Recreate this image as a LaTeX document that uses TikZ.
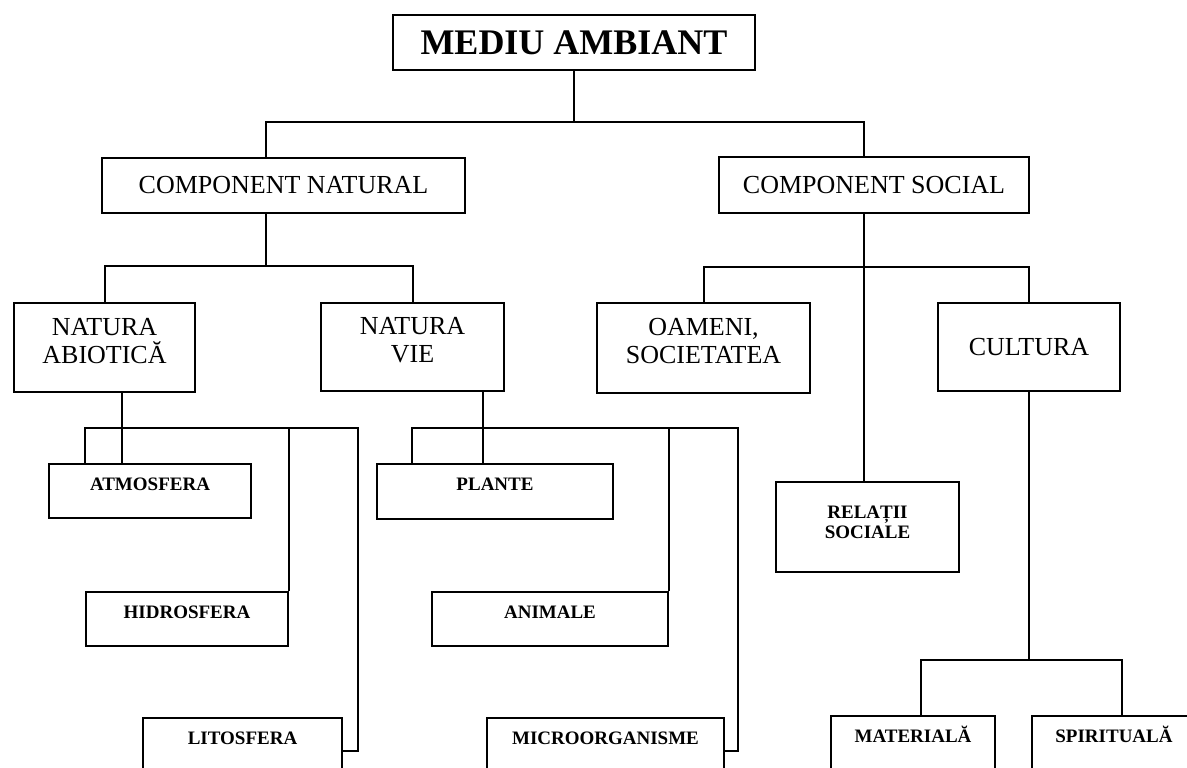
\documentclass[tikz,border=0pt]{standalone}
\usepackage{fontspec}
\setmainfont{Liberation Serif}

\begin{document}
\begin{tikzpicture}[x=0.5pt, y=-0.5pt, line width=1pt,
                    box/.style={draw, inner sep=0pt, anchor=north west, align=center},
                    wh/.style 2 args={minimum width=#1pt, minimum height=#2pt},
                    big/.style={box, font=\fontsize{13}{14}\selectfont},
                    bigtwo/.style={big, text height=29.8pt, text depth=14.2pt},
                    small/.style={box, font=\bfseries\fontsize{9.5}{10}\selectfont, text height=13.2pt, text depth=13.8pt},
                    low/.style={small, text height=13pt, text depth=20pt}]

\clip (0,0) rectangle (1187,767);
\fill[white] (0,0) rectangle (1187,767);

\node[box, wh={181}{27.5}, font=\bfseries\fontsize{18}{20}\selectfont] (mediu) at (392,14) {MEDIU AMBIANT};
\node[big, wh={181.5}{27.5}] (cnat) at (101,157) {COMPONENT NATURAL};
\node[big, wh={155}{28}] (csoc) at (718,156) {COMPONENT SOCIAL};
\node[bigtwo, wh={90.5}{44.5}] (abio) at (13,302) {NATURA\\ABIOTICĂ};
\node[bigtwo, wh={91.5}{44}] (vie) at (320,302) {NATURA\\VIE};
\node[bigtwo, wh={106.5}{45}] (oam) at (596,302) {OAMENI,\\SOCIETATEA};
\node[big, wh={91}{44}] (cult) at (937,302) {CULTURA};
\node[small, wh={101}{27}] (atm) at (48,463) {ATMOSFERA};
\node[small, wh={101}{27}] (hidro) at (85,591) {HIDROSFERA};
\node[low, wh={99.5}{33}] (lito) at (142,717) {LITOSFERA};
\node[small, wh={118}{27.5}] (plante) at (376,463) {PLANTE};
\node[small, wh={118}{27}] (anim) at (431,591) {ANIMALE};
\node[low, wh={118.5}{33}] (micro) at (486,717) {MICROORGANISME};
\node[small, text height=28.15pt, text depth=16.85pt, wh={91.5}{45}] (rel) at (775,481) {RELAȚII\\SOCIALE};
\node[low, wh={82}{33}] (mat) at (830,715) {MATERIALĂ};
\node[low, wh={82}{33}] (spir) at (1031,715) {SPIRITUALĂ};

\coordinate (b0L) at (266,122);
\coordinate (b0R) at (864,122);
\draw (mediu.south) -- (mediu.south |- b0L);
\draw (b0L |- cnat.north) -- (b0L) -- (b0R) -- (b0R |- csoc.north);

\coordinate (b1) at (266,266);
\draw (b1 |- cnat.south) -- (b1);
\draw (abio.north) |- (b1) -| (vie.north);

\coordinate (b2) at (864,267);
\draw (b2 |- csoc.south) -- (b2 |- rel.north);
\draw (oam.north) |- (b2) -| (cult.north);

\coordinate (b3L) at (85,428);
\coordinate (b3) at (122,428);
\coordinate (b3R) at (358,428);
\draw (b3 |- abio.south) -- (b3 |- atm.north);
\draw (b3L |- atm.north) -- (b3L) -- (b3R) |- (lito.east);
\draw (hidro.north east) -- (hidro.north east |- b3R);

\coordinate (b4L) at (412,428);
\coordinate (b4) at (483,428);
\coordinate (b4R) at (738,428);
\draw (b4 |- vie.south) -- (b4 |- plante.north);
\draw (b4L |- plante.north) -- (b4L) -- (b4R) |- (micro.east);
\draw (anim.north east) -- (anim.north east |- b4R);

\coordinate (b5L) at (921,660);
\coordinate (b5R) at (1122,660);
\draw (cult.south) -- (cult.south |- b5L);
\draw (b5L |- mat.north) -- (b5L) -- (b5R) -- (b5R |- spir.north);
\end{tikzpicture}
\end{document}
